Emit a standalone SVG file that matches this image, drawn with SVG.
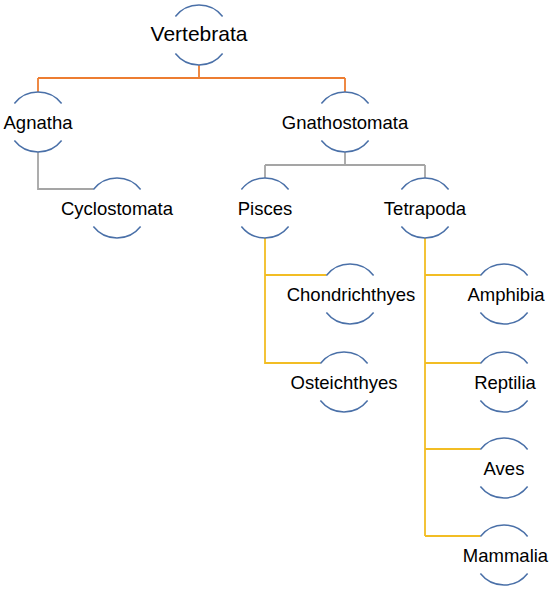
<svg xmlns="http://www.w3.org/2000/svg" width="550" height="589" viewBox="0 0 550 589">
<style>
.arc{fill:none;stroke:#4a70a8;stroke-width:1.5}
.lbl{font-family:"Liberation Sans",Arial,sans-serif;font-size:18.5px;fill:#000;text-anchor:middle}
.big{font-size:21px}
.c{fill:none;stroke-width:1.8}
.or{stroke:#ED7D31}
.gr{stroke:#A5A5A5}
.ye{stroke:#F2BD24}
</style>
<defs>
<g id="ring">
<path class="arc" d="M-23.6 -18.5 A30 30 0 0 1 23.6 -18.5"/>
<path class="arc" d="M-23.6 18.5 A30 30 0 0 0 23.6 18.5"/>
</g>
</defs>
<rect width="550" height="589" fill="#fff"/>
<g id="connectors">
<path class="c or" d="M199 65V78M38 78H345M38 78V92M345 78V92"/>
<path class="c gr" d="M38 152V189H93.4"/>
<path class="c gr" d="M345 152V165M265 165H425M265 165V178M425 165V178"/>
<path class="c ye" d="M265 238V363H320.4M265 275H326.4"/>
<path class="c ye" d="M425 238V536M425 275H480.4M425 363H480.4M425 449H480.4M425 536H480.4"/>
</g>
<g id="vertebrata"><use href="#ring" x="199" y="35"/><text class="lbl big" x="199" y="41">Vertebrata</text></g>
<g id="agnatha"><use href="#ring" x="38" y="122"/><text class="lbl" x="38" y="128.5">Agnatha</text></g>
<g id="gnathostomata"><use href="#ring" x="345" y="122"/><text class="lbl" x="345" y="128.5">Gnathostomata</text></g>
<g id="cyclostomata"><use href="#ring" x="117" y="208"/><text class="lbl" x="117" y="214.5">Cyclostomata</text></g>
<g id="pisces"><use href="#ring" x="265" y="208"/><text class="lbl" x="265" y="214.5">Pisces</text></g>
<g id="tetrapoda"><use href="#ring" x="425" y="208"/><text class="lbl" x="425" y="214.5">Tetrapoda</text></g>
<g id="chondrichthyes"><use href="#ring" x="350" y="294"/><text class="lbl" x="351" y="301">Chondrichthyes</text></g>
<g id="osteichthyes"><use href="#ring" x="344" y="382"/><text class="lbl" x="344" y="388.5">Osteichthyes</text></g>
<g id="amphibia"><use href="#ring" x="504" y="294"/><text class="lbl" x="506" y="301">Amphibia</text></g>
<g id="reptilia"><use href="#ring" x="504" y="382"/><text class="lbl" x="505" y="388.5">Reptilia</text></g>
<g id="aves"><use href="#ring" x="504" y="468"/><text class="lbl" x="504" y="474.5">Aves</text></g>
<g id="mammalia"><use href="#ring" x="504" y="555"/><text class="lbl" x="505.5" y="561.5">Mammalia</text></g>
</svg>
